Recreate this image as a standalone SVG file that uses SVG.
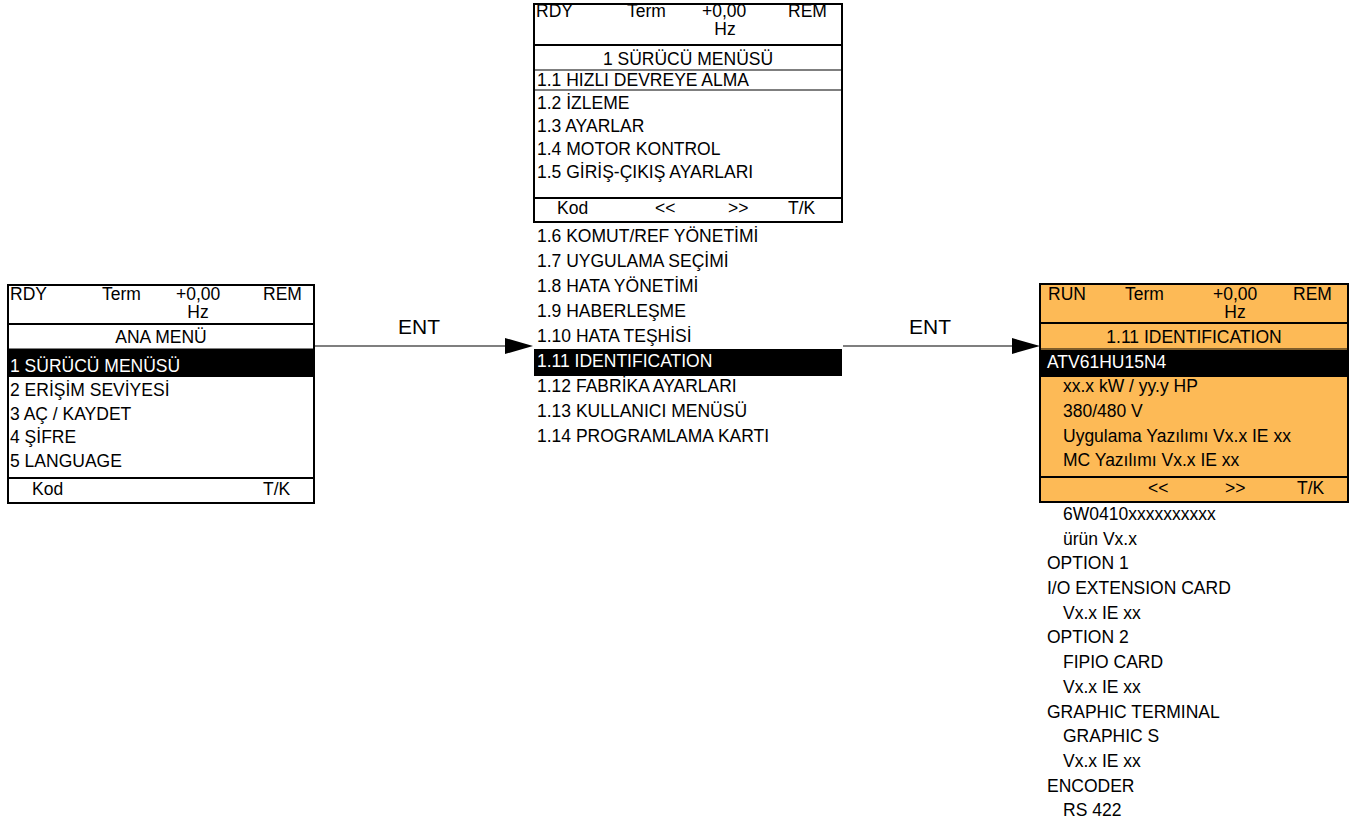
<svg xmlns="http://www.w3.org/2000/svg" width="1360" height="831" viewBox="0 0 1360 831">
<style>
text{font-family:"Liberation Sans",Arial,Helvetica,sans-serif;font-size:17.5px;fill:#000}
.c{text-anchor:middle}
.w{fill:#fff}
.lbl{font-size:21px;text-anchor:middle}
.box{fill:#fff;stroke:#000;stroke-width:2}
.obox{fill:#FDBA56;stroke:#000;stroke-width:2}
.thick{stroke:#000;stroke-width:2}
.thin{stroke:#000;stroke-width:1.2}
.bar{fill:#000}
.conn{stroke:#000;stroke-width:1.2;fill:none}
.head{fill:#000}
</style>
<rect width="1360" height="831" fill="#fff"/>

<g id="node-main-menu">
<rect class="box" x="8" y="285" width="306" height="218"/>
<line class="thick" x1="8" y1="324" x2="314" y2="324"/>
<line class="thin" x1="8" y1="349" x2="314" y2="349"/>
<rect class="bar" x="8" y="349" width="306" height="28"/>
<line class="thick" x1="8" y1="478" x2="314" y2="478"/>
<text x="10" y="300">RDY</text>
<text x="102" y="300">Term</text>
<text x="176" y="300">+0,00</text>
<text class="c" x="198" y="318">Hz</text>
<text x="263" y="300">REM</text>
<text class="c" x="161" y="343">ANA MENÜ</text>
<text class="w" x="10" y="372">1 SÜRÜCÜ MENÜSÜ</text>
<text x="10" y="396">2 ERİŞİM SEVİYESİ</text>
<text x="10" y="420">3 AÇ / KAYDET</text>
<text x="10" y="443">4 ŞİFRE</text>
<text x="10" y="467">5 LANGUAGE</text>
<text x="32" y="495">Kod</text>
<text x="263" y="495">T/K</text>
</g>

<g id="node-drive-menu">
<rect class="box" x="534" y="4" width="308" height="218"/>
<line class="thick" x1="534" y1="45" x2="842" y2="45"/>
<line class="thin" x1="534" y1="70" x2="842" y2="70"/>
<line class="thin" x1="534" y1="90" x2="842" y2="90"/>
<line class="thick" x1="534" y1="198" x2="842" y2="198"/>
<text x="536" y="17">RDY</text>
<text x="627" y="17">Term</text>
<text x="702" y="17">+0,00</text>
<text class="c" x="725" y="35">Hz</text>
<text x="788" y="17">REM</text>
<text class="c" x="688" y="65">1 SÜRÜCÜ MENÜSÜ</text>
<text x="537" y="86">1.1 HIZLI DEVREYE ALMA</text>
<text x="537" y="109">1.2 İZLEME</text>
<text x="537" y="132">1.3 AYARLAR</text>
<text x="537" y="155">1.4 MOTOR KONTROL</text>
<text x="537" y="178">1.5 GİRİŞ-ÇIKIŞ AYARLARI</text>
<text x="557" y="214">Kod</text>
<text x="655" y="214">&lt;&lt;</text>
<text x="728" y="214">&gt;&gt;</text>
<text x="788" y="214">T/K</text>
<rect class="bar" x="534" y="349" width="308" height="27"/>
<text x="537" y="242">1.6 KOMUT/REF YÖNETİMİ</text>
<text x="537" y="267">1.7 UYGULAMA SEÇİMİ</text>
<text x="537" y="292">1.8 HATA YÖNETİMİ</text>
<text x="537" y="317">1.9 HABERLEŞME</text>
<text x="537" y="342">1.10 HATA TEŞHİSİ</text>
<text class="w" x="537" y="367">1.11 IDENTIFICATION</text>
<text x="537" y="392">1.12 FABRİKA AYARLARI</text>
<text x="537" y="417">1.13 KULLANICI MENÜSÜ</text>
<text x="537" y="442">1.14 PROGRAMLAMA KARTI</text>
</g>

<g id="node-identification">
<rect class="obox" x="1040" y="284" width="308" height="218"/>
<line class="thick" x1="1040" y1="323" x2="1348" y2="323"/>
<line class="thin" x1="1040" y1="349" x2="1348" y2="349"/>
<rect class="bar" x="1040" y="350" width="308" height="27"/>
<line class="thick" x1="1040" y1="477" x2="1348" y2="477"/>
<text x="1048" y="300">RUN</text>
<text x="1125" y="300">Term</text>
<text x="1213" y="300">+0,00</text>
<text class="c" x="1235" y="318">Hz</text>
<text x="1293" y="300">REM</text>
<text class="c" x="1194" y="343">1.11 IDENTIFICATION</text>
<text class="w" x="1047" y="368">ATV61HU15N4</text>
<text x="1063" y="392">xx.x kW / yy.y HP</text>
<text x="1063" y="417">380/480 V</text>
<text x="1063" y="442">Uygulama Yazılımı Vx.x IE xx</text>
<text x="1063" y="466">MC Yazılımı Vx.x IE xx</text>
<text x="1148" y="494">&lt;&lt;</text>
<text x="1225" y="494">&gt;&gt;</text>
<text x="1297" y="494">T/K</text>
<text x="1063" y="520">6W0410xxxxxxxxxx</text>
<text x="1063" y="545">ürün Vx.x</text>
<text x="1047" y="569">OPTION 1</text>
<text x="1047" y="594">I/O EXTENSION CARD</text>
<text x="1063" y="619">Vx.x IE xx</text>
<text x="1047" y="643">OPTION 2</text>
<text x="1063" y="668">FIPIO CARD</text>
<text x="1063" y="693">Vx.x IE xx</text>
<text x="1047" y="718">GRAPHIC TERMINAL</text>
<text x="1063" y="742">GRAPHIC S</text>
<text x="1063" y="767">Vx.x IE xx</text>
<text x="1047" y="792">ENCODER</text>
<text x="1063" y="816">RS 422</text>
</g>

<g id="connectors">
<line class="conn" x1="315" y1="346" x2="506" y2="346"/>
<polygon class="head" points="505,338 533,346 505,354"/>
<text class="lbl" x="419" y="334">ENT</text>
<line class="conn" x1="843" y1="346" x2="1013" y2="346"/>
<polygon class="head" points="1012,338 1040,346 1012,354"/>
<text class="lbl" x="930" y="334">ENT</text>
</g>
</svg>
